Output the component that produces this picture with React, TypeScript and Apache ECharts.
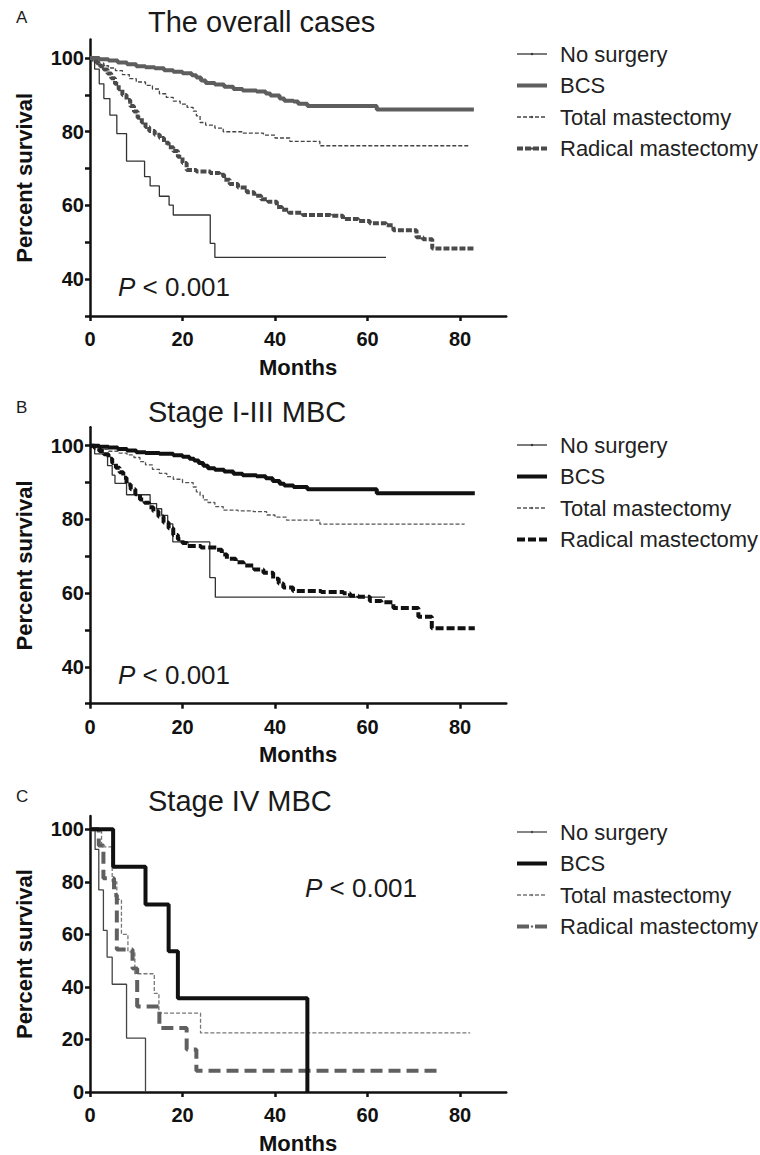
import React, { useEffect, useRef } from 'react';
import * as echarts from 'echarts';

const FONT = "'Liberation Sans', Arial, Helvetica, sans-serif";

const groups = ['No surgery', 'BCS', 'Total mastectomy', 'Radical mastectomy'];
const panelLetters = ['A', 'B', 'C'];
const panelTitles = ['The overall cases', 'Stage I-III MBC', 'Stage IV MBC'];
const pValueText = 'P < 0.001';

const monthTicks = [0, 20, 40, 60, 80];
const survTicksAB = [30, 40, 50, 60, 70, 80, 90, 100];
const survLabelsAB = [40, 60, 80, 100];
const survTicksC = [0, 20, 40, 60, 80, 100];

// Panel A: the overall cases  [months, percent survival]
const overallNoSurgery = [
  [0, 100], [1, 97], [2, 93], [3, 89], [4.3, 84.5], [5.8, 79.5], [7.9, 72], [11.8, 67.8],
  [13, 65.3], [15, 62.5], [17.1, 60.1], [18, 57.4], [26, 49.7], [27, 45.9], [64, 45.9],
];
const overallBCS = [
  [0, 100], [2, 99.7], [4, 99.3], [6, 98.8], [8, 98.3], [10, 97.8], [12, 97.5], [14, 97.2],
  [16, 96.7], [18, 96.3], [20, 95.9], [22, 95.3], [23, 94.7], [24, 93.9], [25, 93.2],
  [27, 92.8], [29, 92.2], [31, 91.6], [33, 91.2], [36, 90.9], [38, 90.4], [39, 89.8],
  [41, 89.0], [42, 88.4], [44, 88.2], [45, 87.6], [47, 87.0], [62, 86.0], [83, 86.0],
];
const overallTotal = [
  [0, 100], [1, 99.3], [2, 98.6], [3, 97.9], [4, 97.3], [5.5, 96.6], [7, 95.5], [8.5, 94.4],
  [10, 93.5], [12, 92.6], [13.5, 91.6], [15, 90.3], [16.5, 89.3], [18, 88.3], [19.5, 87.5],
  [21, 86.6], [22.3, 85.6], [23, 84.3], [23.8, 82.5], [25, 81.8], [27, 81.0], [28.8, 80.0],
  [33, 79.6], [37.5, 79.1], [40, 78.3], [43.2, 77.4], [49.7, 76.2], [82.2, 76.2],
];
const overallRadical = [
  [0, 100], [0.7, 99.3], [1.5, 98.6], [2.2, 97.8], [3, 96.9], [3.8, 95.8], [4.6, 94.5],
  [5.4, 93.0], [6.2, 91.5], [7, 90.0], [7.9, 88.6], [8.7, 87.0], [9.5, 85.5], [10.3, 83.8],
  [11.2, 82.5], [12, 81.3], [12.8, 80.2], [14, 79.2], [15.1, 78.3], [16, 77.0], [17, 75.8],
  [18, 74.8], [19, 73.2], [20, 71.5], [20.9, 69.6], [23, 69.2], [26, 68.8], [28, 68.3],
  [29, 67.0], [30.2, 65.8], [32, 64.9], [33.9, 63.6], [35.5, 62.6], [37, 61.7], [38.5, 61.0],
  [40.4, 59.6], [41.5, 58.8], [43, 58.0], [46, 57.4], [52, 57.2], [54.7, 56.3], [58, 55.8],
  [60.5, 55.2], [64, 54.6], [65.6, 53.3], [70.6, 51.4], [72, 50.8], [74, 48.3], [83, 48.3],
];

// Panel B: stage I-III MBC
const stage13NoSurgery = [
  [0, 100], [1, 97.8], [3.8, 94.6], [4.8, 92], [5.4, 89.8], [7.9, 86.7], [13, 84.3],
  [14.4, 82.9], [15.5, 81.1], [16.8, 78.8], [17.9, 73.9], [25.9, 64.2], [27.1, 58.9], [63.8, 58.9],
];
const stage13BCS = [
  [0, 100], [2, 99.7], [4, 99.5], [6, 99.1], [8, 98.7], [10, 98.2], [12, 98.0], [15, 97.8],
  [18, 97.4], [20, 97.0], [21.5, 96.5], [22.5, 96.0], [23.5, 95.3], [24.5, 94.6], [25.5, 93.9],
  [27, 93.5], [29, 93.0], [31, 92.4], [33, 92.0], [36, 91.7], [38, 91.2], [39.5, 90.4],
  [41, 89.7], [42, 89.2], [44, 88.8], [47, 88.2], [62, 87.1], [83.2, 87.1],
];
const stage13Total = [
  [0, 100], [1, 99.6], [2.5, 99.0], [4, 98.5], [6, 98.0], [8, 97.5], [9.5, 96.8], [10.8, 95.7],
  [12, 94.8], [13.5, 93.6], [15, 92.5], [16.6, 91.6], [18, 90.9], [20, 90.0], [22.3, 88.8],
  [23, 87.5], [23.8, 86.5], [24.5, 85.3], [25.5, 84.6], [27, 83.5], [28.8, 82.5], [32, 82.3],
  [35.3, 82.1], [38.2, 81.2], [40, 80.6], [42.5, 79.8], [49.7, 78.7], [81, 78.7],
];
const stage13Radical = [
  [0, 100], [1, 99.3], [2, 98.6], [3, 97.7], [4, 96.5], [4.8, 95.3], [5.6, 94.0], [6.4, 92.8],
  [7.2, 91.3], [7.9, 89.5], [8.8, 88.2], [9.8, 86.8], [10.8, 85.4], [11.8, 84.5], [12.8, 83.3],
  [13.7, 82.2], [14.8, 80.8], [15.9, 79.2], [17, 77.6], [18, 75.8], [19, 74.6], [20, 73.6],
  [21, 72.8], [24, 72.4], [27.4, 71.8], [28.5, 70.5], [29.6, 69.3], [31.5, 68.4], [33.2, 67.5],
  [35.5, 66.4], [37.5, 65.5], [39.6, 63.9], [40.8, 62.6], [41.8, 61.5], [43.9, 60.6], [50, 60.3],
  [54.8, 60.0], [56.2, 59.3], [58, 59.0], [60.5, 57.9], [63, 57.5], [65.6, 56.0], [71, 53.6],
  [73.9, 50.5], [83.2, 50.5],
];

// Panel C: stage IV MBC
const stage4NoSurgery = [
  [0, 100], [1.1, 92.3], [1.9, 76.9], [2.9, 61.5], [3.7, 51.3], [4.8, 41.0], [7.9, 20.5], [12, 0],
];
const stage4BCS = [[0, 100], [5, 85.7], [12, 71.4], [17, 53.6], [19, 35.7], [47, 0]];
const stage4Total = [
  [0, 100], [2.5, 93.3], [4.8, 80.0], [5.8, 73.3], [6.8, 60.0], [8.2, 53.3], [9.7, 45.0],
  [13.9, 37.5], [14.9, 30.0], [23.9, 22.5], [82.2, 22.5],
];
const stage4Radical = [
  [0, 100], [1.9, 93.8], [2.9, 81.3], [5.2, 75], [5.8, 54.2], [9.2, 47], [10.2, 32.5],
  [15, 24.4], [20.9, 16.2], [23, 8.1], [75, 8.1],
];

const panelData = [
  [overallNoSurgery, overallBCS, overallTotal, overallRadical],
  [stage13NoSurgery, stage13BCS, stage13Total, stage13Radical],
  [stage4NoSurgery, stage4BCS, stage4Total, stage4Radical],
];

// styles per panel / group
const lineStyles = [
  [
    { color: '#333333', width: 1.3, type: 'solid' },
    { color: '#5e5e5e', width: 4, type: 'solid' },
    { color: '#444444', width: 1.3, type: [4, 2] },
    { color: '#4a4a4a', width: 4, type: [6, 2] },
  ],
  [
    { color: '#333333', width: 1.3, type: 'solid' },
    { color: '#111111', width: 4, type: 'solid' },
    { color: '#555555', width: 1.3, type: [4, 2] },
    { color: '#111111', width: 4, type: [8, 3] },
  ],
  [
    { color: '#444444', width: 1.3, type: 'solid' },
    { color: '#111111', width: 4, type: 'solid' },
    { color: '#777777', width: 1.3, type: [4, 2] },
    { color: '#606060', width: 4, type: [12, 6] },
  ],
];

const GRID_LEFT = 90;
const GRID_WIDTH = 416.25;
const GRID_HEIGHT = 276.4;
const gridTops = [39.6, 427.3, 816.1];
const legendTops = [38, 429, 816];
const titleYs = [22, 412, 801];
const letterYs = [17, 407, 796];
const pPos = [[118, 287], [118, 675], [305, 888]];

export default function App() {
  const ref = useRef<HTMLDivElement>(null);
  useEffect(() => {
    if (!ref.current) return;
    const chart = echarts.init(ref.current, null, { renderer: 'svg' });
    const axisColor = '#111111';
    const grids = gridTops.map((top) => ({
      left: GRID_LEFT, top, width: GRID_WIDTH, height: GRID_HEIGHT, containLabel: false,
    }));
    const xAxes = gridTops.map((_, i) => ({
      type: 'value', gridIndex: i, min: 0, max: 90,
      axisLine: { show: true, onZero: false, lineStyle: { color: axisColor, width: 2.5 } },
      axisTick: { show: true, customValues: monthTicks, length: 5, lineStyle: { color: axisColor, width: 2.5 } },
      axisLabel: { customValues: monthTicks, margin: 13, fontSize: 20, fontWeight: 'bold', color: '#111', fontFamily: FONT },
      splitLine: { show: false },
      name: 'Months', nameLocation: 'middle', nameGap: 40,
      nameTextStyle: { fontSize: 22, fontWeight: 'bold', color: '#111', fontFamily: FONT },
    }));
    const yAxes = gridTops.map((_, i) => {
      const isC = i === 2;
      return {
        type: 'value', gridIndex: i, min: isC ? 0 : 30, max: 105,
        axisLine: { show: true, onZero: false, lineStyle: { color: axisColor, width: 2.5 } },
        axisTick: { show: true, customValues: isC ? survTicksC : survTicksAB, length: 5, lineStyle: { color: axisColor, width: 2.5 } },
        axisLabel: { customValues: isC ? survTicksC : survLabelsAB, margin: 6, fontSize: 20, fontWeight: 'bold', color: '#111', fontFamily: FONT },
        splitLine: { show: false },
        name: 'Percent survival', nameLocation: 'middle', nameGap: 55,
        nameTextStyle: { fontSize: 22, fontWeight: 'bold', color: '#111', fontFamily: FONT },
      };
    });
    const series: any[] = [];
    panelData.forEach((datasets, p) => {
      datasets.forEach((data, g) => {
        const ls = lineStyles[p][g];
        series.push({
          type: 'line',
          name: panelLetters[p] + '|' + groups[g],
          xAxisIndex: p, yAxisIndex: p,
          data, step: 'end', symbol: 'none', silent: true,
          lineStyle: { color: ls.color, width: ls.width, type: ls.type, cap: 'butt' },
          itemStyle: { color: ls.color },
          emphasis: { disabled: true },
          z: g === 1 ? 3 : 2,
        });
      });
    });
    const legends = legendTops.map((top, p) => ({
      orient: 'vertical', left: 510, top,
      data: groups.map((g) => panelLetters[p] + '|' + g),
      formatter: (n: string) => n.split('|')[1],
      itemWidth: 30, itemHeight: 3, itemGap: 9.5,
      selectedMode: false,
      lineStyle: { width: 'inherit', type: 'inherit', color: 'inherit' },
      textStyle: { fontSize: 22, lineHeight: 22, color: '#222', fontFamily: FONT, padding: [0, 0, 0, 8] },
    }));
    const graphics: any[] = [];
    panelTitles.forEach((t, p) => {
      graphics.push({
        type: 'text', x: 148, y: titleYs[p], silent: true,
        style: { text: t, fontSize: 29, fontFamily: FONT, fill: '#1a1a1a', textAlign: 'left', textVerticalAlign: 'middle', align: 'left', verticalAlign: 'middle' },
      });
      graphics.push({
        type: 'text', x: 16, y: letterYs[p], silent: true,
        style: { text: panelLetters[p], fontSize: 17, fontFamily: FONT, fill: '#1a1a1a', textAlign: 'left', textVerticalAlign: 'middle', align: 'left', verticalAlign: 'middle' },
      });
      graphics.push({
        type: 'text', x: pPos[p][0], y: pPos[p][1], silent: true,
        style: {
          text: '{i|P}{r|' + pValueText.slice(1) + '}',
          fontSize: 26, fontFamily: FONT, fill: '#1a1a1a',
          textAlign: 'left', textVerticalAlign: 'middle', align: 'left', verticalAlign: 'middle',
          rich: {
            i: { fontStyle: 'italic', fontSize: 26, fontFamily: FONT, fill: '#1a1a1a' },
            r: { fontSize: 26, fontFamily: FONT, fill: '#1a1a1a' },
          },
        },
      });
    });
    chart.setOption({
      animation: false,
      backgroundColor: '#ffffff',
      grid: grids,
      xAxis: xAxes,
      yAxis: yAxes,
      legend: legends,
      series,
      graphic: { elements: graphics },
    });
    return () => chart.dispose();
  }, []);
  return (
    <div
      ref={ref}
      style={{ position: 'absolute', left: 0, top: 0, width: 760, height: 1155, background: '#fff' }}
    />
  );
}
